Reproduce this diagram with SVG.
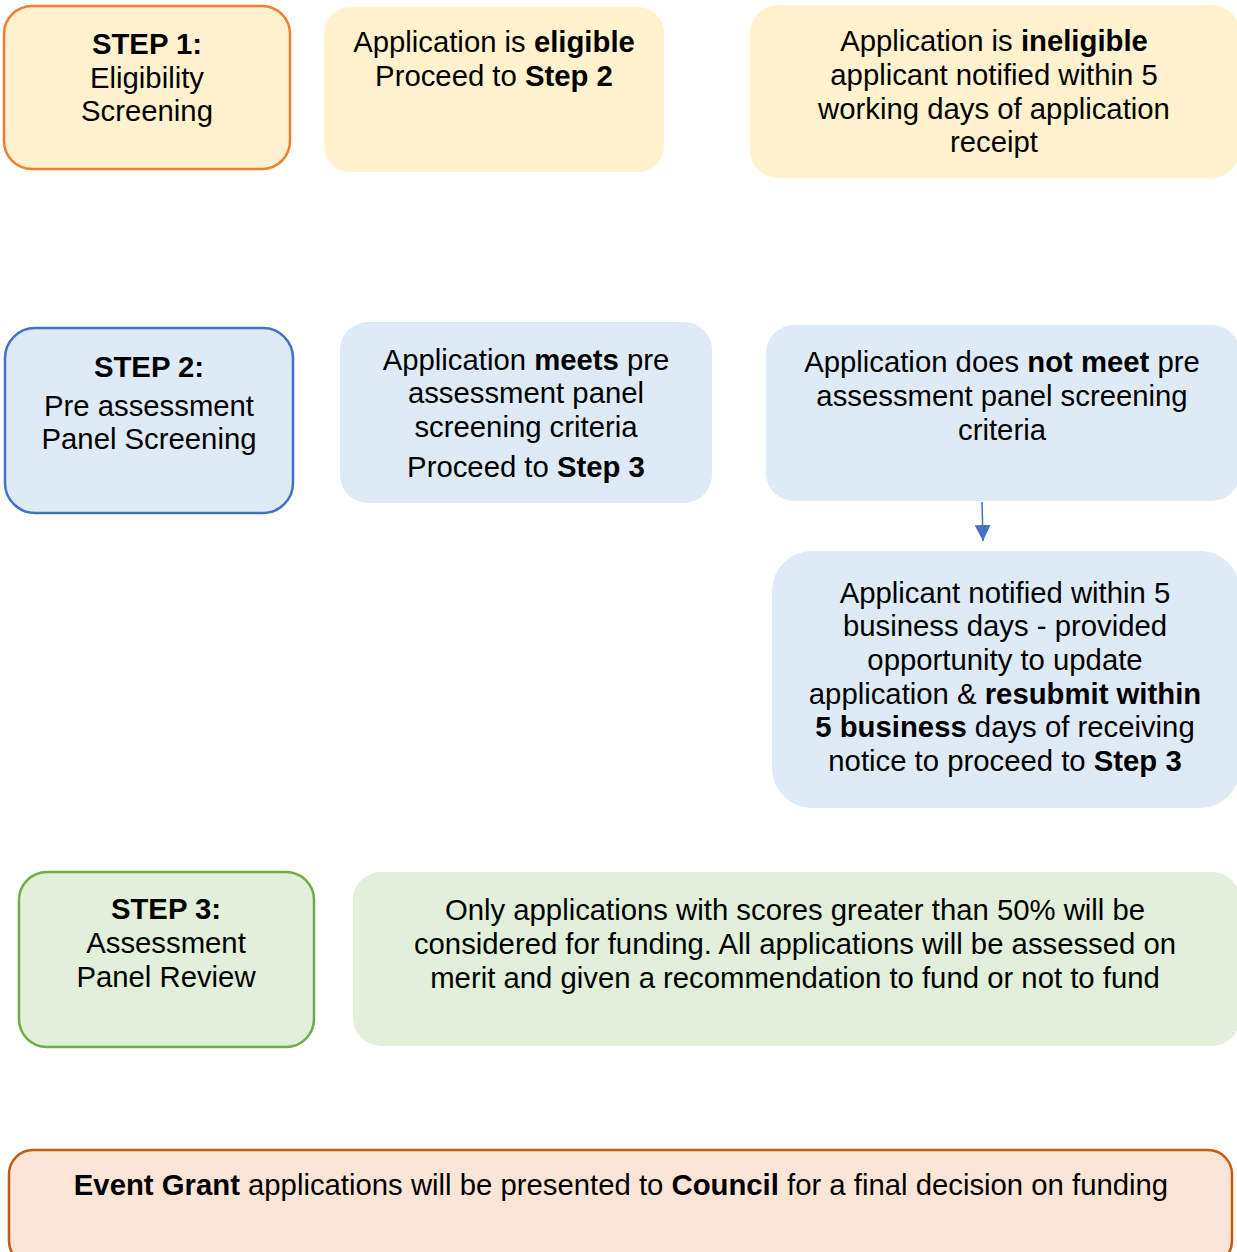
<svg xmlns="http://www.w3.org/2000/svg" width="1237" height="1252" viewBox="0 0 1237 1252">
<style>
text{font-family:"Liberation Sans",Arial,sans-serif;font-size:29.3px;fill:#000;text-anchor:middle}
.b{font-weight:bold}
.y{fill:#FFF2CC}
.bl{fill:#DEEAF6}
.g{fill:#E2EFDA}
</style>
<defs>
<marker id="ah" markerWidth="16" markerHeight="16" refX="16" refY="8" orient="auto" markerUnits="userSpaceOnUse" viewBox="0 0 16 16">
<path d="M0,0 L16,8 L0,16 Z" fill="#4472C4"/>
</marker>
</defs>
<g id="step1">
<rect x="4" y="6" width="286" height="163" rx="28" class="y" stroke="#ED7D31" stroke-width="2.5"/>
<text x="147" y="54" class="b">STEP 1:</text>
<text x="147" y="88">Eligibility</text>
<text x="147" y="121">Screening</text>
</g>
<g id="eligible">
<rect x="324" y="7" width="340" height="165" rx="26" class="y"/>
<text x="494" y="52">Application is <tspan class="b">eligible</tspan></text>
<text x="494" y="86">Proceed to <tspan class="b">Step 2</tspan></text>
</g>
<g id="ineligible">
<rect x="750" y="5" width="490" height="173" rx="28" class="y"/>
<text x="994" y="51">Application is <tspan class="b">ineligible</tspan></text>
<text x="994" y="85">applicant notified within 5</text>
<text x="994" y="119">working days of application</text>
<text x="994" y="152">receipt</text>
</g>
<g id="step2">
<rect x="5" y="328" width="288" height="185" rx="30" class="bl" stroke="#4472C4" stroke-width="2.5"/>
<text x="149" y="377" class="b">STEP 2:</text>
<text x="149" y="416">Pre assessment</text>
<text x="149" y="449">Panel Screening</text>
</g>
<g id="meets">
<rect x="340" y="322" width="372" height="181" rx="28" class="bl"/>
<text x="526" y="370">Application <tspan class="b">meets</tspan> pre</text>
<text x="526" y="403">assessment panel</text>
<text x="526" y="437">screening criteria</text>
<text x="526" y="477">Proceed to <tspan class="b">Step 3</tspan></text>
</g>
<g id="notmeet">
<rect x="766" y="325" width="474" height="176" rx="28" class="bl"/>
<text x="1002" y="372">Application does <tspan class="b">not meet</tspan> pre</text>
<text x="1002" y="406">assessment panel screening</text>
<text x="1002" y="440">criteria</text>
</g>
<g id="notified">
<rect x="772" y="551" width="468" height="257" rx="40" class="bl"/>
<text x="1005" y="603">Applicant notified within 5</text>
<text x="1005" y="636">business days - provided</text>
<text x="1005" y="670">opportunity to update</text>
<text x="1005" y="704">application &amp; <tspan class="b">resubmit within</tspan></text>
<text x="1005" y="737"><tspan class="b">5 business</tspan> days of receiving</text>
<text x="1005" y="771">notice to proceed to <tspan class="b">Step 3</tspan></text>
</g>
<g id="step3">
<rect x="19" y="872" width="295" height="175" rx="28" class="g" stroke="#70AD47" stroke-width="2.5"/>
<text x="166" y="919" class="b">STEP 3:</text>
<text x="166" y="953">Assessment</text>
<text x="166" y="987">Panel Review</text>
</g>
<g id="review">
<rect x="353" y="872" width="887" height="174" rx="28" class="g"/>
<text x="795" y="920">Only applications with scores greater than 50% will be</text>
<text x="795" y="954">considered for funding. All applications will be assessed on</text>
<text x="795" y="988">merit and given a recommendation to fund or not to fund</text>
</g>
<g id="final">
<rect x="9" y="1150" width="1223" height="115" rx="24" fill="#FBE5D6" stroke="#C55A11" stroke-width="2.5"/>
<text x="621" y="1195"><tspan class="b">Event Grant</tspan> applications will be presented to <tspan class="b">Council</tspan> for a final decision on funding</text>
</g>
<g id="connectors">
<line x1="982" y1="502" x2="983" y2="541" stroke="#4472C4" stroke-width="1.5" marker-end="url(#ah)"/>
</g>
</svg>
